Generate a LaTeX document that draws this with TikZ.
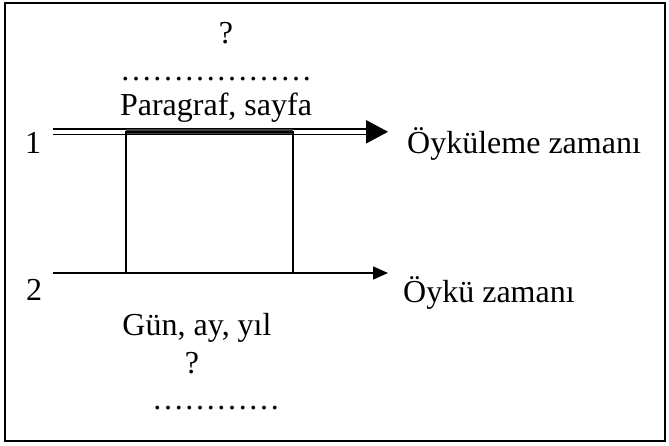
\documentclass[tikz,border=0pt]{standalone}
\usepackage{fontspec}
\setmainfont{Liberation Serif}
\usetikzlibrary{arrows.meta}
\begin{document}
\begin{tikzpicture}[x=1pt,y=-1pt,
  lbl/.style={inner sep=0pt,font=\fontsize{32}{38}\selectfont},
  axis/.style={line width=1.5pt},
  rail/.style={line width=1.8pt},
  frame/.style={line width=1.8pt}]
\useasboundingbox (0,0) rectangle (669,445);
\draw[frame] (5,3) rectangle (665,441);

% time lines
\coordinate (s1) at (53,131.8);
\coordinate (b1) at (366,131.8);
\coordinate (t1) at (388,131.8);
\coordinate (s2) at (53,273);
\coordinate (t2) at (388,273);

% narration time: double line with a large filled head
\draw[rail] ([yshift=-2.6pt]s1) -- ([yshift=-2.6pt]b1);
\draw[rail] ([yshift=2.6pt]s1) -- ([yshift=2.6pt]b1);
\fill ([yshift=-11.8pt]b1) -- (t1) -- ([yshift=11.8pt]b1) -- cycle;

% story time
\draw[axis,-{Triangle[length=15pt,width=13pt]}] (s2) -- (t2);

% span box between the two lines
\fill[black!75] (126,129.2) rectangle (293,134.4);
\draw[axis] (126,131.8) rectangle (293,273);

% labels
\node[lbl,anchor=base] (q1) at (226,43) {?};
\node[lbl,anchor=base] (d1) at (216,80) {………………};
\node[lbl,anchor=base] (par) at (216,115) {Paragraf, sayfa};
\node[lbl,anchor=base] (n1) at (33,153) {1};
\node[lbl,anchor=base west] (l1) at (407,153) {Öyküleme zamanı};
\node[lbl,anchor=base] (n2) at (34,300) {2};
\node[lbl,anchor=base west] (l2) at (403,302) {Öykü zamanı};
\node[lbl,anchor=base] (gun) at (197,335) {Gün, ay, yıl};
\node[lbl,anchor=base] (q2) at (192,373) {?};
\node[lbl,anchor=base] (d2) at (216,409) {…………};
\end{tikzpicture}
\end{document}
